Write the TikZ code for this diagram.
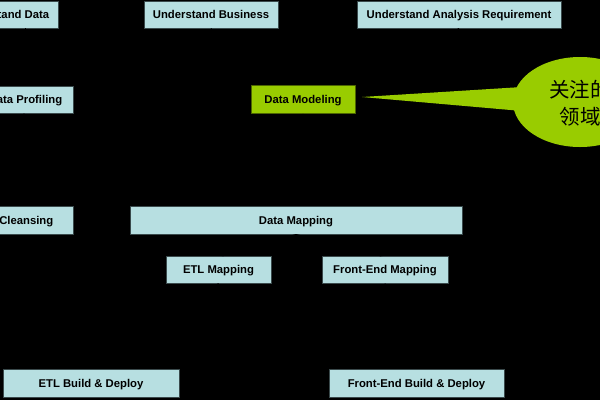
\documentclass[tikz,border=0pt]{standalone}
\usepackage{fontspec}
\setmainfont{Liberation Sans}
\newfontfamily\cjk{Noto Sans CJK SC}
\usetikzlibrary{arrows.meta}
\definecolor{boxblue}{HTML}{B7DFE1}
\definecolor{boxedge}{HTML}{3A4A4C}
\definecolor{lime}{HTML}{99CC00}
\definecolor{limeedge}{HTML}{4D6600}
\tikzset{
  stepbox/.style={draw=boxedge, line width=0.8pt, fill=boxblue, rectangle, inner sep=0pt,
    font=\fontsize{11.3}{13}\selectfont\bfseries, text=black, text height=8.1pt, text depth=0pt},
  modelbox/.style={stepbox, draw=limeedge, fill=lime},
  conn/.style={draw=black, line width=0.8pt, -{Stealth[length=5pt,width=4pt]}}
}
\begin{document}
\begin{tikzpicture}[x=1pt,y=-1pt]
\useasboundingbox (0,0) rectangle (600,400);
\fill[black] (0,0) rectangle (600,400);
\begin{scope}
\clip (0,0) rectangle (600,400);
% row 1
\node[stepbox, minimum width=108pt, minimum height=27pt] (ud) at (4,14.5) {Understand Data};
\node[stepbox, minimum width=134pt, minimum height=27pt] (ub) at (211,14.5) {Understand Business};
\node[stepbox, minimum width=204pt, minimum height=27pt] (uar) at (459,14.5) {Understand Analysis Requirement};
% row 2
\node[stepbox, minimum width=95pt, minimum height=27pt] (dp) at (25.5,99.5) {Data Profiling};
\node[modelbox, minimum width=104pt, minimum height=28pt] (dm) at (303,99.5) {Data Modeling};
% row 3
\node[stepbox, minimum width=121pt, minimum height=28pt] (dc) at (12.5,220) {Data Cleansing};
\node[stepbox, minimum width=332pt, minimum height=28pt] (dmap) at (296,220) {Data Mapping};
% row 4
\node[stepbox, minimum width=105pt, minimum height=27pt] (etlm) at (218.5,269.5) {ETL Mapping};
\node[stepbox, minimum width=126pt, minimum height=27pt] (fem) at (385,269.5) {Front-End Mapping};
% row 5
\node[stepbox, minimum width=176pt, minimum height=28pt] (etlb) at (91,383) {ETL Build \& Deploy};
\node[stepbox, minimum width=175pt, minimum height=28pt] (feb) at (416.5,383) {Front-End Build \& Deploy};
% connectors (black on black)
\draw[conn] (ud.south -| dp.north) -- (dp.north);
\draw[conn] (dp) -- (dc);
\draw[conn] (ub.south) -- (dm.north west);
\draw[conn] (uar.south) -- (dm.north east);
\draw[conn] (dm.south) -- (dmap.north);
\draw[conn] (dmap.south) -- (etlm.north);
\draw[conn] (dmap.south) -- (fem.north);
\draw[conn] (etlm.south) -- (etlb.north);
\draw[conn] (fem.south) -- (feb.north);
% callout
\coordinate (tip) at (362,97);
\fill[lime] (tip) -- (522,87) -- (522,111) -- cycle;
\fill[lime] (580,102) ellipse [x radius=67, y radius=45];
\node[font=\cjk\fontsize{20.5}{27}\selectfont, align=center, text=black, inner sep=0pt] (note) at (580,103) {关注的\\领域};
\end{scope}
\end{tikzpicture}
\end{document}
